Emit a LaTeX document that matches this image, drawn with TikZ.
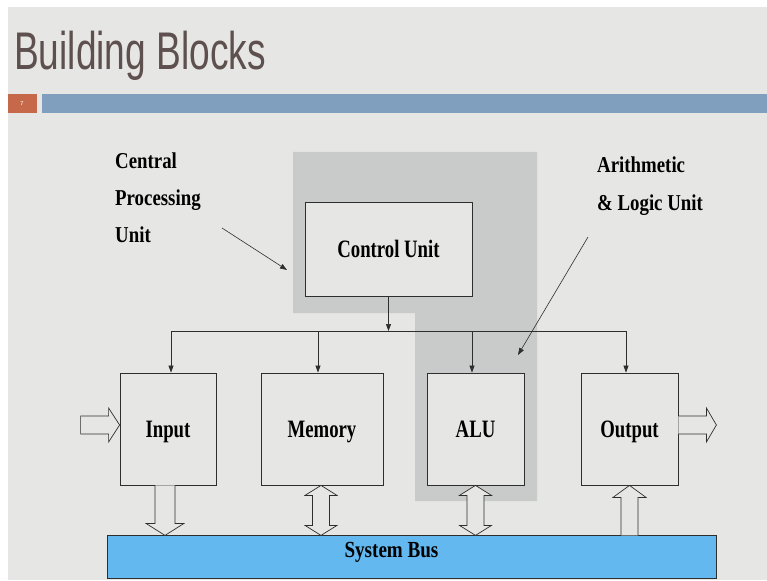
\documentclass[tikz,border=0pt]{standalone}
\usepackage{fontspec}
\setmainfont{Liberation Serif}
\newfontfamily\titlefont[FakeStretch=0.70]{Liberation Sans}
\newfontfamily\boxfont[FakeStretch=0.75]{Liberation Serif}
\newfontfamily\labfont[FakeStretch=0.83]{Liberation Serif}
\usetikzlibrary{arrows.meta}
\definecolor{slidebg}{HTML}{E6E7E4}
\definecolor{cpugray}{HTML}{C9CACA}
\definecolor{barblue}{HTML}{809FBE}
\definecolor{numorange}{HTML}{C5694A}
\definecolor{busblue}{HTML}{62B8EF}
\definecolor{titlecol}{HTML}{5D504E}
\definecolor{linecol}{HTML}{2E2E2E}
\tikzset{
  blockbox/.style={draw=linecol, line width=0.8pt, fill=slidebg, inner sep=0pt,
    font=\boxfont\bfseries\fontsize{25}{25}\selectfont, text height=17pt, text depth=0pt},
  conn/.style={draw=linecol, line width=0.7pt, -{Triangle[length=7pt,width=5pt]}},
  plainline/.style={draw=linecol, line width=0.7pt},
  hollow/.style={draw=linecol, line width=0.7pt, fill=slidebg, line join=miter},
  lab/.style={font=\labfont\bfseries\fontsize{22.7}{22.7}\selectfont, inner sep=0pt, anchor=base west, text=black}
}
\begin{document}
\begin{tikzpicture}[x=1pt,y=-1pt]
% page and slide background
\fill[white] (0,0) rectangle (767,580);
\useasboundingbox (0,0) rectangle (767,580);
\fill[slidebg] (8,7) rectangle (767,580);
% title
\node[anchor=base west, inner sep=0pt, text=titlecol, font=\titlefont\fontsize{53}{53}\selectfont] (title) at (14,70) {Building Blocks};
% slide number and bar
\fill[numorange] (8,94) rectangle (37,113);
\node[text=white, font=\sffamily\fontsize{6}{6}\selectfont, inner sep=0pt] (num) at (22,104) {7};
\fill[barblue] (42,94) rectangle (767,113);
% CPU shaded L-shape
\fill[cpugray] (293,152) -- (537,152) -- (537,501) -- (415,501) -- (415,313) -- (293,313) -- cycle;
% blocks
\node[blockbox, minimum width=167pt, minimum height=94pt] (cu) at (388.5,249) {Control Unit};
\node[blockbox, minimum width=96pt, minimum height=112pt] (in) at (168,429) {Input};
\node[blockbox, minimum width=122pt, minimum height=112pt] (mem) at (322,429) {Memory};
\node[blockbox, minimum width=97pt, minimum height=112pt] (alu) at (475.5,429) {ALU};
\node[blockbox, minimum width=97pt, minimum height=112pt] (out) at (629.5,429) {Output};
% system bus
\node[draw=linecol, line width=0.8pt, fill=busblue, minimum width=609pt, minimum height=43pt, inner sep=0pt] (bus) at (411.5,556.5) {};
\node[font=\labfont\bfseries\fontsize{23}{23}\selectfont, inner sep=0pt, anchor=base] (bustext) at (391.5,557) {System Bus};
% control distribution
\coordinate (jn) at (388.5,331);
\coordinate (hl) at (171,331);
\coordinate (hr) at (626,331);
\draw[conn] (cu.south) -- (jn);
\draw[plainline] (hl) -- (hr);
\draw[conn] (hl) -- (hl |- in.north);
\draw[conn] ([xshift=-4pt]mem.north |- hl) -- ([xshift=-4pt]mem.north);
\draw[conn] ([xshift=-3.5pt]alu.north |- hl) -- ([xshift=-3.5pt]alu.north);
\draw[conn] (hr) -- (hr |- out.north);
% hollow arrows: external input / output
\begin{scope}[shift={([yshift=4pt]in.west)}]
  \draw[hollow] (-39,-9) -- (-11,-9) -- (-11,-17) -- (0,0) -- (-11,17) -- (-11,9) -- (-39,9) -- cycle;
\end{scope}
\begin{scope}[shift={([yshift=4pt]out.east)}]
  \draw[hollow] (0,-9) -- (28,-9) -- (28,-17) -- (38,0) -- (28,17) -- (28,9) -- (0,9);
\end{scope}
% hollow arrows to/from the bus
\begin{scope}[shift={(in.south -| 165,0)}]
  \draw[hollow] (-10,0) -- (-10,38) -- (-19,38) -- (0,50) -- (19,38) -- (10,38) -- (10,0);
\end{scope}
\begin{scope}[shift={([xshift=-1pt]mem.south)}]
  \draw[hollow] (0,0) -- (16,10) -- (8.5,10) -- (8.5,40) -- (16,40) -- (0,50) -- (-16,40) -- (-8.5,40) -- (-8.5,10) -- (-16,10) -- cycle;
\end{scope}
\begin{scope}[shift={(alu.south)}]
  \draw[hollow] (0,0) -- (16,10) -- (8.5,10) -- (8.5,40) -- (16,40) -- (0,50) -- (-16,40) -- (-8.5,40) -- (-8.5,10) -- (-16,10) -- cycle;
\end{scope}
\begin{scope}[shift={(out.south)}]
  \draw[hollow] (-8.5,50) -- (-8.5,12) -- (-16.5,12) -- (0,0) -- (16.5,12) -- (8.5,12) -- (8.5,50);
\end{scope}
% callout labels
\node[lab] (l1) at (115,168) {Central};
\node[lab] (l2) at (115,205) {Processing};
\node[lab] (l3) at (115,242) {Unit};
\node[lab] (r1) at (597,172) {Arithmetic};
\node[lab] (r2) at (597,210) {\& Logic Unit};
\coordinate (cpustart) at (222,228);
\coordinate (cpuend) at (287,270);
\coordinate (alustart) at (588,237);
\coordinate (aluend) at (518,355);
\draw[conn, line width=0.6pt] (cpustart) -- (cpuend);
\draw[conn, line width=0.6pt] (alustart) -- (aluend);
\end{tikzpicture}
\end{document}
